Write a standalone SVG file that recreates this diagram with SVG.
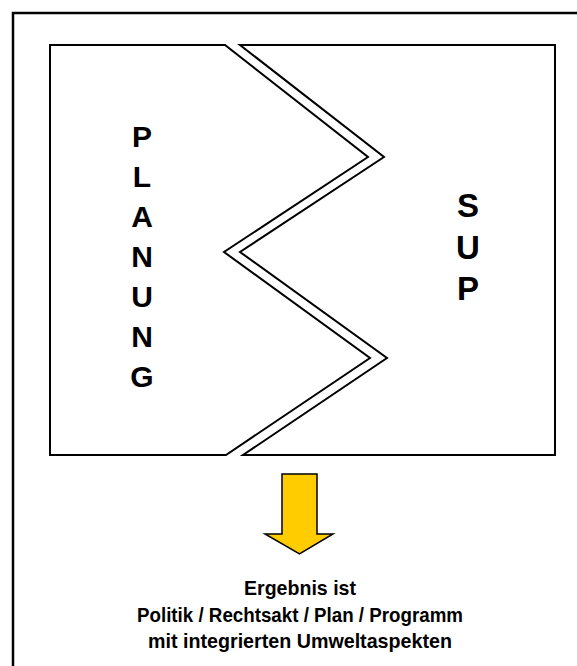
<svg xmlns="http://www.w3.org/2000/svg" width="577" height="666" viewBox="0 0 577 666">
<style>
.frame{fill:none;stroke:#000;stroke-width:2.5}
.shape{fill:#fff;stroke:#000;stroke-width:2;stroke-linejoin:miter}
.big{font-family:"Liberation Sans",Arial,sans-serif;font-weight:bold;fill:#000;text-anchor:middle}
.cap{font-family:"Liberation Sans",Arial,sans-serif;font-weight:bold;font-size:20.5px;fill:#000;text-anchor:middle}
.arrow{fill:#FFCC00;stroke:#000;stroke-width:1.5;stroke-linejoin:miter}
</style>
<rect width="577" height="666" fill="#fff"/>
<rect class="frame" x="13" y="13" width="620" height="720"/>
<g id="planung">
<polygon class="shape" points="50,45 225,45 368,157 224,252 370,358 226,455 50,455"/>
<text class="big" font-size="30" x="142"><tspan x="142" y="147">P</tspan><tspan x="142" y="187">L</tspan><tspan x="142" y="227">A</tspan><tspan x="142" y="267">N</tspan><tspan x="142" y="307">U</tspan><tspan x="142" y="347">N</tspan><tspan x="142" y="387">G</tspan></text>
</g>
<g id="sup">
<polygon class="shape" points="240,45 555,45 555,455 243,455 387,358 240,252 384,157"/>
<text class="big" font-size="33" x="468"><tspan x="468" y="217">S</tspan><tspan x="468" y="259">U</tspan><tspan x="468" y="300">P</tspan></text>
</g>
<g id="connectors">
<polygon class="arrow" points="282,474 317,474 317,534 333,534 299.5,554 265,534 282,534"/>
</g>
<g id="ergebnis">
<text class="cap" x="300" y="595" textLength="112" lengthAdjust="spacingAndGlyphs">Ergebnis ist</text>
<text class="cap" x="300" y="622" textLength="326" lengthAdjust="spacingAndGlyphs">Politik / Rechtsakt / Plan / Programm</text>
<text class="cap" x="300" y="648" textLength="304" lengthAdjust="spacingAndGlyphs">mit integrierten Umweltaspekten</text>
</g>
</svg>
